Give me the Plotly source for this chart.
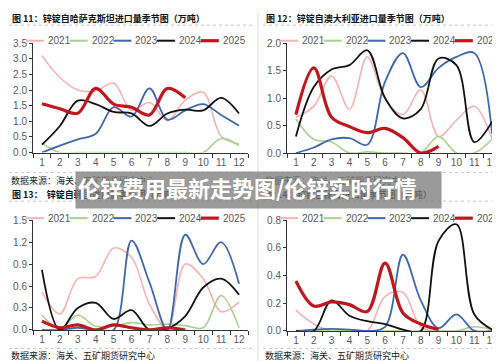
import plotly.graph_objects as go

months = [str(i) for i in range(1, 13)]
years = ["2021", "2022", "2023", "2024", "2025"]

# Panel 11: Kazakhstan
kaz_2021 = [3.1, 2.4, 2.0, 1.97, 2.22, 1.35, 1.6, 1.02, 1.68, 1.93, 0.52, 0.27]
kaz_2022 = [0.3, 0.0, 0.0, 0.0, 0.0, 0.0, 0.0, 0.0, 0.0, 0.0, 0.45, 0.22]
kaz_2023 = [0.0, 0.22, 0.42, 0.6, 1.45, 1.15, 2.05, 1.05, 1.35, 1.55, 1.2, 0.86]
kaz_2024 = [0.25, 0.85, 1.66, 1.55, 1.3, 1.25, 0.85, 1.25, 1.37, 1.35, 1.75, 1.25]
kaz_2025 = [1.56, 1.4, 1.26, 2.05, 1.55, 1.45, 1.2, 2.05, 1.75]

# Panel 12: Australia
aus_2021 = [0.65, 0.85, 1.4, 0.8, 1.75, 0.98, 0.7, 1.15, 0.3, 0.6, 0.85, 0.25]
aus_2022 = [0.62, 0.25, 0.2, 0.0, 0.02, 0.0, 0.0, 0.0, 0.3, 0.0, 0.0, 0.25]
aus_2023 = [0.0, 0.1, 0.25, 0.27, 0.15, 1.3, 1.82, 1.2, 1.55, 1.75, 1.82, 0.35]
aus_2024 = [0.3, 1.2, 1.52, 1.6, 1.87, 1.0, 0.63, 0.8, 1.72, 1.6, 0.2, 0.57]
aus_2025 = [0.7, 1.55, 0.65, 0.48, 0.37, 0.45, 0.28, 0.0, 0.12]

# Panel 13: Korea
kor_2021 = [0.52, 0.22, 0.7, 0.73, 1.12, 0.99, 0.35, 0.02, 0.9, 0.7, 0.25, 0.38]
kor_2022 = [0.2, 0.02, 0.2, 0.05, 0.05, 0.1, 0.07, 0.08, 0.06, 0.03, 0.47, 0.03]
kor_2023 = [0.0, 0.0, 0.03, 0.0, 0.0, 1.22, 0.65, 0.0, 1.3, 0.9, 1.2, 0.63]
kor_2024 = [0.82, 0.0, 0.3, 0.37, 0.15, 0.27, 0.0, 0.02, 0.19, 0.58, 0.7, 0.48]
kor_2025 = [0.12, 0.03, 0.07, 0.0, 0.07, 0.03, 0.0, 0.03, 0.0]

# Panel 14: Peru
per_2021 = [0.15, 0.05, 0.0, 0.0, 0.0, 0.25, 0.28, 0.03, 0.0, 0.0, 0.0, 0.0]
per_2022 = [0.0, 0.0, 0.0, 0.0, 0.0, 0.0, 0.0, 0.0, 0.0, 0.0, 0.03, 0.01]
per_2023 = [0.0, 0.01, 0.015, 0.01, 0.0, 0.03, 0.55, 0.22, 0.02, 0.12, 0.0, 0.0]
per_2024 = [0.0, 0.0, 0.22, 0.11, 0.07, 0.05, 0.01, 0.0, 0.65, 0.77, 0.12, 0.01]
per_2025 = [0.36, 0.18, 0.21, 0.19, 0.14, 0.49, 0.13, 0.05, 0.01]

titles = [
    "图 11：锌锭自哈萨克斯坦进口量季节图（万吨）",
    "图 12：锌锭自澳大利亚进口量季节图（万吨）",
    "图 13：  锌锭自韩国进口量季节图（万吨）",
    "图 14：锌锭自秘鲁进口量季节图（万吨）",
]
source_text = "数据来源：海关、五矿期货研究中心"
banner_text = "伦锌费用最新走势图/伦锌实时行情"

y_max = [3.5, 2.0, 1.5, 0.8]
y_step = [0.5, 0.5, 0.3, 0.2]

panels = [
    [kaz_2021, kaz_2022, kaz_2023, kaz_2024, kaz_2025],
    [aus_2021, aus_2022, aus_2023, aus_2024, aus_2025],
    [kor_2021, kor_2022, kor_2023, kor_2024, kor_2025],
    [per_2021, per_2022, per_2023, per_2024, per_2025],
]

colors = ["#F4B4B4", "#A9D18E", "#3F67B1", "#111111", "#C0161E"]
widths = [1.6, 1.6, 1.8, 1.8, 3.2]

W, H = 500, 361
def px(x):
    return x / W
def py(y):
    return 1 - y / H

# pixel geometry of the four plot areas: (left, right, top, bottom)
geo = [
    (25, 240, 31, 143.5),
    (279, 493, 31, 144),
    (25, 240, 213, 326),
    (279, 493, 213, 327),
]
panel_x0 = [0, 254, 0, 254]
panel_ytop = [0, 0, 181, 181]
source_y = [172, 172, 352, 352]

fig = go.Figure()
layout = dict(
    width=W, height=H, margin=dict(l=0, r=0, t=0, b=0),
    paper_bgcolor="white", plot_bgcolor="white",
    showlegend=False,
    font=dict(family="Liberation Sans, Arial, Noto Sans CJK SC", size=10, color="#595959"),
)
annotations = []
shapes = []

for i, series in enumerate(panels):
    sfx = "" if i == 0 else str(i + 1)
    for k, vals in enumerate(series):
        fig.add_trace(go.Scatter(
            x=months[:len(vals)], y=vals, mode="lines", name=years[k],
            line=dict(color=colors[k], width=widths[k], shape="spline", smoothing=1.0),
            xaxis="x" + sfx, yaxis="y" + sfx, hoverinfo="skip",
        ))
    l, r, t, b = geo[i]
    layout["xaxis" + sfx] = dict(
        domain=[px(l), px(r)], anchor="y" + sfx, type="category",
        categoryorder="array", categoryarray=months, range=[-0.5, 11.5],
        showline=True, linecolor="#333333", linewidth=1,
        ticks="outside", ticklen=4, tickcolor="#333333", tickson="boundaries",
        tickangle=0, showgrid=False, zeroline=False, fixedrange=True,
        tickfont=dict(size=10, color="#595959"),
    )
    layout["yaxis" + sfx] = dict(
        domain=[py(b), py(t)], anchor="x" + sfx, range=[0, y_max[i]],
        dtick=y_step[i], tick0=0, tickformat=".1f",
        showline=True, linecolor="#333333", linewidth=1,
        ticks="outside", ticklen=3, tickcolor="#333333",
        showgrid=False, zeroline=False, fixedrange=True,
        tickfont=dict(size=10, color="#595959"),
    )
    x0 = panel_x0[i]
    ytop = panel_ytop[i]
    # title
    annotations.append(dict(
        text="<b>" + titles[i] + "</b>", xref="paper", yref="paper",
        x=px(x0 + 2), y=py(ytop + 6), xanchor="left", yanchor="middle",
        showarrow=False, font=dict(size=9, color="#111111", family="Noto Sans CJK SC"),
    ))
    # source
    annotations.append(dict(
        text=source_text, xref="paper", yref="paper",
        x=px(x0 + 2), y=py(source_y[i]), xanchor="left", yanchor="middle",
        showarrow=False, borderpad=0,
        font=dict(size=9, color="#222222", family="Noto Sans CJK SC"),
    ))
    # dotted separators
    shapes.append(dict(type="line", xref="paper", yref="paper",
                       x0=px(x0 + 1), x1=px(x0 + 245), y0=py(ytop + 12.5), y1=py(ytop + 12.5),
                       line=dict(color="#c8c8c8", width=1, dash="dot")))
    shapes.append(dict(type="line", xref="paper", yref="paper",
                       x0=px(x0 + 1), x1=px(x0 + 245), y0=py(ytop + 164), y1=py(ytop + 164),
                       line=dict(color="#c8c8c8", width=1, dash="dot")))
    # manual legend
    lx = 18 if i % 2 == 0 else 272
    ly = 28.5 if i < 2 else 211
    for k in range(5):
        sx = lx + k * 43.7
        shapes.append(dict(type="line", xref="paper", yref="paper",
                           x0=px(sx), x1=px(sx + 18), y0=py(ly), y1=py(ly),
                           line=dict(color=colors[k], width=widths[k] if k == 4 else 2)))
        annotations.append(dict(
            text=years[k], xref="paper", yref="paper",
            x=px(sx + 20), y=py(ly), xanchor="left", yanchor="middle",
            showarrow=False, font=dict(size=10, color="#595959"),
        ))

# vertical separator
shapes.append(dict(type="line", xref="paper", yref="paper",
                   x0=px(250), x1=px(250), y0=0, y1=1,
                   line=dict(color="#dddddd", width=1)))

# banner overlay (box then text)
annotations.append(dict(
    text=" ", xref="paper", yref="paper",
    x=px(67), y=py(162), xanchor="left", yanchor="top",
    width=365, height=36, borderpad=0, bgcolor="rgba(125,125,125,0.78)",
    showarrow=False,
))
annotations.append(dict(
    text="<b>" + banner_text + "</b>", xref="paper", yref="paper",
    x=px(239), y=py(178.5), xanchor="center", yanchor="middle",
    showarrow=False, font=dict(size=22, color="white", family="Noto Sans CJK SC"),
))

layout["annotations"] = annotations
layout["shapes"] = shapes
fig.update_layout(**layout)
fig.write_html("out.html")
